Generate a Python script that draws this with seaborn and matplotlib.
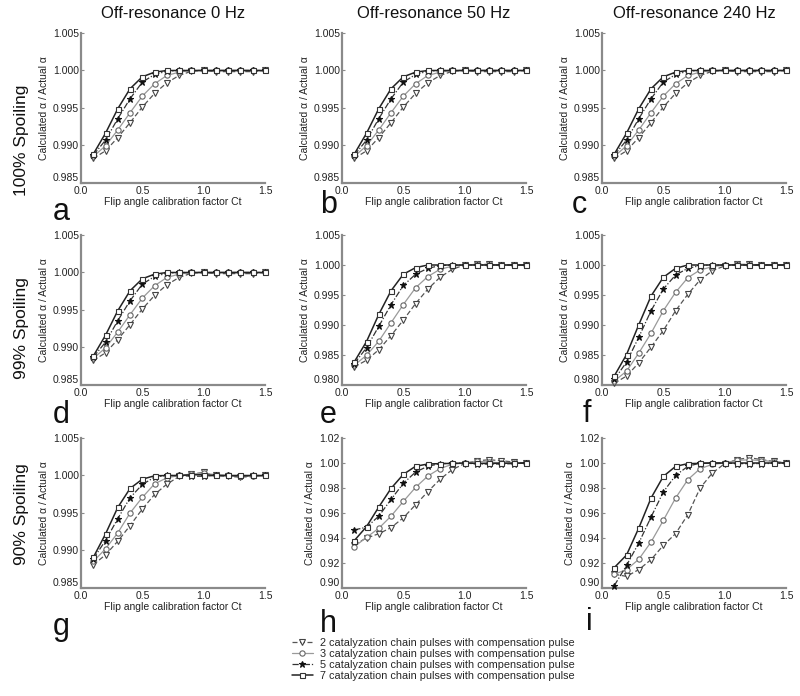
import matplotlib
matplotlib.use("Agg")
import matplotlib.pyplot as plt
import matplotlib.ticker as mticker
import seaborn as sns
import pandas as pd

# ---------------- data ----------------
x_ct = [0.1, 0.2, 0.3, 0.4, 0.5, 0.6, 0.7, 0.8, 0.9, 1.0, 1.1, 1.2, 1.3, 1.4, 1.5]

series_labels = [
    "2 catalyzation chain pulses with compensation pulse",
    "3 catalyzation chain pulses with compensation pulse",
    "5 catalyzation chain pulses with compensation pulse",
    "7 catalyzation chain pulses with compensation pulse",
]
col_titles = ["Off-resonance 0 Hz", "Off-resonance 50 Hz", "Off-resonance 240 Hz"]
row_titles = ["100% Spoiling", "99% Spoiling", "90% Spoiling"]
panel_letters = ["a", "b", "c", "d", "e", "f", "g", "h", "i"]

# panels a, b, c, d (visually identical)
abcd_p2 = [0.98827, 0.98929, 0.99106, 0.99305, 0.99513, 0.99695, 0.99836, 0.99934, 0.9999, 1.0, 0.99985, 0.99985, 0.99985, 0.99985, 1.0]
abcd_p3 = [0.98854, 0.98996, 0.99208, 0.99438, 0.99659, 0.99823, 0.99934, 0.99978, 1.0, 1.0, 1.0, 1.0, 1.0, 1.0, 1.0]
abcd_p5 = [0.98872, 0.99071, 0.99358, 0.99624, 0.99845, 0.99947, 0.9999, 1.0, 1.0, 1.0, 1.0, 1.0, 1.0, 1.0, 1.0]
abcd_p7 = [0.98885, 0.99164, 0.99491, 0.99757, 0.99916, 0.99978, 1.0, 1.0, 1.0, 1.0, 1.0, 1.0, 1.0, 1.0, 1.0]

e_p2 = [0.98302, 0.98412, 0.98588, 0.98824, 0.99082, 0.99357, 0.99599, 0.99797, 0.99929, 1.0, 1.0001, 1.0001, 1.0, 1.0, 1.0]
e_p3 = [0.9833, 0.98495, 0.9873, 0.99038, 0.99341, 0.99621, 0.99808, 0.99929, 0.9998, 1.0, 1.0001, 1.0, 1.0, 1.0, 1.0]
e_p5 = [0.98357, 0.98621, 0.98978, 0.99341, 0.99659, 0.99846, 0.99945, 0.9999, 1.0, 1.0, 1.0, 1.0, 1.0, 1.0, 1.0]
e_p7 = [0.98385, 0.98725, 0.99176, 0.99571, 0.99846, 0.99956, 1.0, 1.0, 1.0, 1.0, 1.0, 1.0, 1.0, 1.0, 1.0]

f_p2 = [0.98028, 0.98149, 0.98369, 0.98633, 0.98908, 0.99238, 0.99513, 0.99752, 0.99906, 0.99984, 1.0001, 1.0001, 1.0, 1.0, 1.0]
f_p3 = [0.98066, 0.98231, 0.98533, 0.98863, 0.99238, 0.99545, 0.99789, 0.99917, 0.99972, 1.0, 1.0001, 1.0, 1.0, 1.0, 1.0]
f_p5 = [0.98094, 0.9838, 0.98798, 0.99238, 0.996, 0.99833, 0.99945, 0.9999, 1.0, 1.0, 1.0, 1.0, 1.0, 1.0, 1.0]
f_p7 = [0.9815, 0.98507, 0.99005, 0.99483, 0.99795, 0.99945, 1.0, 1.0, 1.0, 1.0, 1.0, 1.0, 1.0, 1.0, 1.0]

g_p2 = [0.9881, 0.98942, 0.99124, 0.99332, 0.99553, 0.99747, 0.99885, 0.99987, 1.0002, 1.0004, 1.0, 0.99987, 0.99978, 0.99987, 1.0]
g_p3 = [0.98854, 0.99022, 0.99235, 0.995, 0.99708, 0.99889, 0.99969, 1.0, 1.0002, 1.0003, 1.0001, 1.0, 0.99987, 0.9999, 1.0]
g_p5 = [0.98889, 0.99133, 0.99425, 0.99704, 0.9988, 0.99978, 1.0, 1.0, 0.9999, 0.9999, 1.0, 1.0, 0.9999, 1.0, 1.0]
g_p7 = [0.98907, 0.99221, 0.99575, 0.99827, 0.99951, 0.99996, 1.0, 1.0, 1.0001, 1.0001, 1.0, 1.0, 1.0, 1.0, 1.0]

h_p2 = [0.9347, 0.94, 0.9434, 0.9483, 0.9562, 0.9666, 0.9771, 0.987, 0.9948, 0.9995, 1.0018, 1.0026, 1.0018, 1.0008, 1.0]
h_p3 = [0.933, 0.9405, 0.9478, 0.9575, 0.9693, 0.9805, 0.9896, 0.9956, 0.999, 1.0, 1.0013, 1.0008, 1.0, 1.0, 1.0]
h_p5 = [0.9465, 0.9486, 0.9575, 0.9709, 0.9837, 0.9928, 0.9974, 0.9995, 0.9997, 1.0, 0.9992, 0.9992, 0.9992, 0.9995, 1.0]
h_p7 = [0.9379, 0.9491, 0.9648, 0.9797, 0.9909, 0.9974, 0.9992, 0.9995, 0.9997, 1.0, 0.9997, 0.9997, 0.9998, 0.9999, 1.0]

i_p2 = [0.911, 0.9093, 0.9147, 0.9227, 0.9341, 0.9435, 0.9587, 0.98, 0.992, 0.9995, 1.0027, 1.0043, 1.0027, 1.0013, 1.0]
i_p3 = [0.911, 0.9147, 0.923, 0.9368, 0.9541, 0.972, 0.9867, 0.9955, 0.9989, 1.0, 1.0022, 1.0025, 1.002, 1.0012, 1.0]
i_p5 = [0.9019, 0.9181, 0.936, 0.9568, 0.9768, 0.9901, 0.9973, 1.0, 1.0, 1.0, 0.9995, 0.9995, 0.9995, 0.9997, 1.0]
i_p7 = [0.9163, 0.9264, 0.948, 0.972, 0.9893, 0.9973, 0.9995, 0.9997, 1.0, 1.0, 1.0, 1.0, 1.0, 1.0, 1.0]

panel_series = [
    [abcd_p2, abcd_p3, abcd_p5, abcd_p7],
    [abcd_p2, abcd_p3, abcd_p5, abcd_p7],
    [abcd_p2, abcd_p3, abcd_p5, abcd_p7],
    [abcd_p2, abcd_p3, abcd_p5, abcd_p7],
    [e_p2, e_p3, e_p5, e_p7],
    [f_p2, f_p3, f_p5, f_p7],
    [g_p2, g_p3, g_p5, g_p7],
    [h_p2, h_p3, h_p5, h_p7],
    [i_p2, i_p3, i_p5, i_p7],
]

ylims = [(0.985, 1.005)] * 4 + [(0.980, 1.005)] * 2 + [(0.985, 1.005), (0.90, 1.02), (0.90, 1.02)]
ytick_sets = [
    [0.985, 0.990, 0.995, 1.000, 1.005],
    [0.985, 0.990, 0.995, 1.000, 1.005],
    [0.985, 0.990, 0.995, 1.000, 1.005],
    [0.985, 0.990, 0.995, 1.000, 1.005],
    [0.980, 0.985, 0.990, 0.995, 1.000, 1.005],
    [0.980, 0.985, 0.990, 0.995, 1.000, 1.005],
    [0.985, 0.990, 0.995, 1.000, 1.005],
    [0.90, 0.92, 0.94, 0.96, 0.98, 1.00, 1.02],
    [0.90, 0.92, 0.94, 0.96, 0.98, 1.00, 1.02],
]
yfmt = ["%.3f"] * 7 + ["%.2f"] * 2
x_ticks = [0.0, 0.5, 1.0, 1.5]

# ---------------- styling ----------------
sns.set_theme(style="white")
plt.rcParams["font.family"] = ["Liberation Sans", "DejaVu Sans"]

styles = [
    dict(marker="v", linestyle=(0, (4, 2)), color="#555555", mfc="white", mec="#444444", ms=4.2, lw=0.9),
    dict(marker="o", linestyle="-", color="#9a9a9a", mfc="white", mec="#666666", ms=3.8, lw=0.9),
    dict(marker="*", linestyle=(0, (5, 1.5, 1, 1.5)), color="#333333", mfc="#111111", mec="#111111", ms=5, lw=0.9),
    dict(marker="s", linestyle="-", color="#222222", mfc="white", mec="#333333", ms=3.6, lw=1.1),
]

fig = plt.figure(figsize=(8, 6.96), dpi=100)
W, H = 800, 696
col_left = [81, 342, 602]
ax_w = 184
row_top = [33, 235, 438]
ax_h = 150

axes = []
for k in range(9):
    r, c = divmod(k, 3)
    ax = fig.add_axes([col_left[c] / W, 1 - (row_top[r] + ax_h) / H, ax_w / W, ax_h / H])
    for j, ys in enumerate(panel_series[k]):
        df = pd.DataFrame({"x": x_ct, "y": ys})
        st = styles[j]
        sns.lineplot(data=df, x="x", y="y", ax=ax, marker=st["marker"], linestyle=st["linestyle"],
                     color=st["color"], markerfacecolor=st["mfc"], markeredgecolor=st["mec"],
                     markersize=st["ms"], linewidth=st["lw"], markeredgewidth=0.8,
                     label=series_labels[j], legend=False, clip_on=False, zorder=3 + j)
    ax.set_xlim(0, 1.5)
    ax.set_ylim(*ylims[k])
    ax.set_xticks(x_ticks)
    ax.set_yticks(ytick_sets[k])
    ax.xaxis.set_major_formatter(mticker.FormatStrFormatter("%.1f"))
    ax.yaxis.set_major_formatter(mticker.FormatStrFormatter(yfmt[k]))
    for s in ["top", "right"]:
        ax.spines[s].set_visible(False)
    for s in ["left", "bottom"]:
        ax.spines[s].set_color("#8a8a8a")
        ax.spines[s].set_linewidth(1.6)
    ax.tick_params(axis="y", direction="in", length=2.5, width=0.8, color="#8a8a8a", pad=1.5,
                   labelsize=7.5, labelcolor="#222222", left=True)
    ax.tick_params(axis="x", length=0, pad=2.2, labelsize=7.5, labelcolor="#222222")
    ax.set_xlabel("Flip angle calibration factor Ct", fontsize=7.5, labelpad=1, color="#222222")
    ax.set_ylabel("Calculated α / Actual α", fontsize=7.5, labelpad=3, color="#222222")
    ax.set_facecolor("none")
    # lowest y label sits just above the corner, as in the reference
    ax.get_yticklabels()[0].set_verticalalignment("bottom")
    axes.append(ax)

# column titles
col_title_x = [173, 434, 694]
for c in range(3):
    fig.text(col_title_x[c] / W, 1 - 14 / H, col_titles[c], ha="center", va="center",
             fontsize=12, color="#111111")

# row titles
row_title_y = [140, 328, 514]
for r in range(3):
    fig.text(22 / W, 1 - row_title_y[r] / H, row_titles[r], ha="center", va="center",
             rotation=90, fontsize=12.5, color="#111111")

# panel letters
letter_pos = [(53, 220), (320, 213), (572, 213), (53, 423), (320, 423), (583, 422),
              (53, 635), (320, 632), (586, 630)]
for k, (lx, ly) in enumerate(letter_pos):
    fig.text(lx / W, 1 - ly / H, panel_letters[k], ha="left", va="baseline",
             fontsize=22, color="#111111")

# legend
handles, labels = axes[0].get_legend_handles_labels()
fig.legend(handles, labels, loc="upper left", bbox_to_anchor=(292 / W, 1 - 638 / H),
           frameon=False, fontsize=7.8, handlelength=1.9, handletextpad=0.7,
           labelspacing=0.08, borderpad=0, borderaxespad=0)

fig.savefig("out.png", dpi=100)
